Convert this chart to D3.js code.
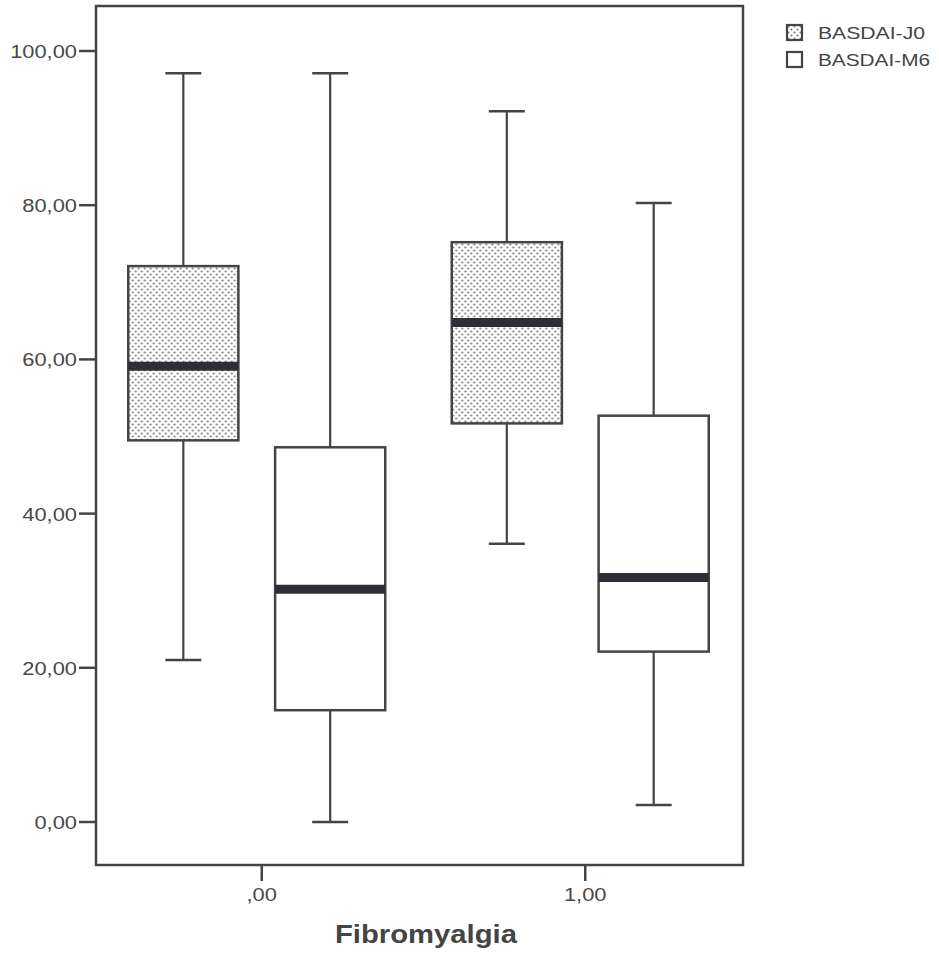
<!DOCTYPE html>
<html>
<head>
<meta charset="utf-8">
<script src="https://cdn.jsdelivr.net/npm/d3@7"></script>
<style>
  body { margin: 0; background: #fff; }
  svg { display: block; font-family: Arial, "Liberation Sans", sans-serif; }
</style>
</head>
<body>
<div id="chart"></div>
<script>
// groups on the x axis and the two series
var groups = [",00", "1,00"];
var series = ["BASDAI-J0", "BASDAI-M6"];

// five numbers per box: low whisker, Q1, median, Q3, high whisker
var j0Values = [
  [21.0, 49.5, 59.1, 72.1, 97.1],
  [36.1, 51.7, 64.8, 75.2, 92.2]
];
var m6Values = [
  [0.0, 14.5, 30.2, 48.6, 97.1],
  [2.2, 22.1, 31.7, 52.7, 80.3]
];
var yTicks = [0, 20, 40, 60, 80, 100];
var xTitle = "Fibromyalgia";

var W = 939, H = 953;
var frame = {left: 96, top: 6, right: 743, bottom: 865};
var ink = "#444";
var stretch = 1.15; // the scanned text is a bit wider than Arial

var svg = d3.select("#chart").append("svg")
  .attr("width", W)
  .attr("height", H);

// dotted fill for J0
var defs = svg.append("defs");
var pat = defs.append("pattern")
  .attr("id", "dots")
  .attr("patternUnits", "userSpaceOnUse")
  .attr("width", 6)
  .attr("height", 6);
pat.append("rect").attr("width", 6).attr("height", 6).attr("fill", "#fff");
pat.append("circle").attr("cx", 1.5).attr("cy", 1.5).attr("r", 1.1).attr("fill", "#7a7a7a");
pat.append("circle").attr("cx", 4.5).attr("cy", 4.5).attr("r", 1.1).attr("fill", "#7a7a7a");

var y = d3.scaleLinear().domain([0, 100]).range([822, 51]);
var x = d3.scalePoint().domain(groups).range([100, 747]).padding(0.5);
var inner = d3.scaleBand().domain(series).range([-133.5, 123.5]).paddingInner(0.25);

function widen(sel) {
  sel.each(function() {
    var len = this.getComputedTextLength();
    d3.select(this).attr("textLength", len * stretch).attr("lengthAdjust", "spacingAndGlyphs");
  });
}

// y axis ticks + labels
var fmt = function(d) { return d3.format(".2f")(d).replace(".", ","); };
var yAxis = svg.append("g");
yAxis.selectAll("line").data(yTicks).enter().append("line")
  .attr("x1", frame.left - 17).attr("x2", frame.left)
  .attr("y1", function(d) { return y(d); })
  .attr("y2", function(d) { return y(d); })
  .attr("stroke", ink).attr("stroke-width", 2.5);
yAxis.selectAll("text").data(yTicks).enter().append("text")
  .attr("x", frame.left - 19)
  .attr("y", function(d) { return y(d) + 7; })
  .attr("text-anchor", "end")
  .attr("font-size", 19)
  .attr("fill", "#484848")
  .text(fmt)
  .call(widen);

// x axis ticks + labels
var xAxis = svg.append("g");
xAxis.selectAll("line").data(groups).enter().append("line")
  .attr("x1", function(d) { return x(d); })
  .attr("x2", function(d) { return x(d); })
  .attr("y1", frame.bottom).attr("y2", frame.bottom + 16)
  .attr("stroke", ink).attr("stroke-width", 2.5);
xAxis.selectAll("text").data(groups).enter().append("text")
  .attr("x", function(d) { return x(d); })
  .attr("y", frame.bottom + 36)
  .attr("text-anchor", "middle")
  .attr("font-size", 19)
  .attr("fill", "#484848")
  .text(function(d) { return d; })
  .call(widen);

svg.append("text")
  .attr("x", 426)
  .attr("y", 943)
  .attr("text-anchor", "middle")
  .attr("font-size", 25)
  .attr("font-weight", "bold")
  .attr("fill", "#444")
  .attr("textLength", 182)
  .attr("lengthAdjust", "spacingAndGlyphs")
  .text(xTitle);

// boxes
var boxes = [];
groups.forEach(function(g, i) {
  boxes.push({group: g, s: series[0], v: j0Values[i]});
  boxes.push({group: g, s: series[1], v: m6Values[i]});
});

var bw = inner.bandwidth();
var cap = 36;
var bx = svg.append("g").selectAll("g").data(boxes).enter().append("g")
  .attr("transform", function(d) { return "translate(" + (x(d.group) + inner(d.s)) + ",0)"; });

bx.append("line")
  .attr("x1", bw / 2).attr("x2", bw / 2)
  .attr("y1", function(d) { return y(d.v[4]); })
  .attr("y2", function(d) { return y(d.v[0]); })
  .attr("stroke", ink).attr("stroke-width", 2.2);
bx.append("line")
  .attr("x1", bw / 2 - cap / 2).attr("x2", bw / 2 + cap / 2)
  .attr("y1", function(d) { return y(d.v[4]); })
  .attr("y2", function(d) { return y(d.v[4]); })
  .attr("stroke", ink).attr("stroke-width", 2.5);
bx.append("line")
  .attr("x1", bw / 2 - cap / 2).attr("x2", bw / 2 + cap / 2)
  .attr("y1", function(d) { return y(d.v[0]); })
  .attr("y2", function(d) { return y(d.v[0]); })
  .attr("stroke", ink).attr("stroke-width", 2.5);
bx.append("rect")
  .attr("x", 0).attr("width", bw)
  .attr("y", function(d) { return y(d.v[3]); })
  .attr("height", function(d) { return y(d.v[1]) - y(d.v[3]); })
  .attr("fill", function(d) { return d.s === series[0] ? "url(#dots)" : "#fff"; })
  .attr("stroke", ink).attr("stroke-width", 2.5);
bx.append("line")
  .attr("x1", 0).attr("x2", bw)
  .attr("y1", function(d) { return y(d.v[2]); })
  .attr("y2", function(d) { return y(d.v[2]); })
  .attr("stroke", "#2e2e36").attr("stroke-width", 9);

// frame
svg.append("rect")
  .attr("x", frame.left).attr("y", frame.top)
  .attr("width", frame.right - frame.left)
  .attr("height", frame.bottom - frame.top)
  .attr("fill", "none")
  .attr("stroke", ink).attr("stroke-width", 2.5);

// legend
var leg = svg.append("g").selectAll("g").data(series).enter().append("g")
  .attr("transform", function(d, i) { return "translate(787," + (25 + i * 27) + ")"; });
leg.append("rect")
  .attr("width", 15).attr("height", 15)
  .attr("fill", function(d, i) { return i === 0 ? "url(#dots)" : "#fff"; })
  .attr("stroke", ink).attr("stroke-width", 2.2);
leg.append("text")
  .attr("x", 31).attr("y", 13.5)
  .attr("font-size", 16.5)
  .attr("fill", "#444")
  .attr("textLength", function(d, i) { return i === 0 ? 107 : 112; })
  .attr("lengthAdjust", "spacingAndGlyphs")
  .text(function(d) { return d; });
</script>
</body>
</html>
